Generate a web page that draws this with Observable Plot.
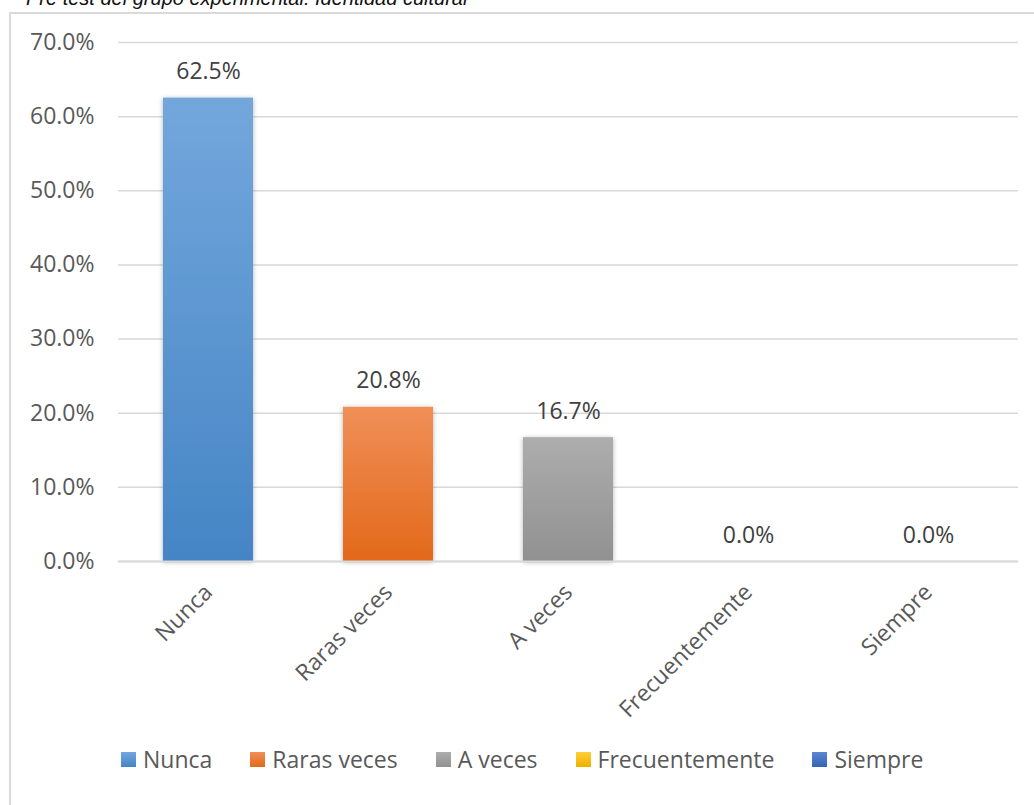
<!DOCTYPE html>
<html>
<head>
<meta charset="utf-8">
<script src="https://cdn.jsdelivr.net/npm/d3@7"></script>
<script src="https://cdn.jsdelivr.net/npm/@observablehq/plot@0.6"></script>
<style>
  html, body { margin: 0; padding: 0; background: #fff; width: 1034px; height: 805px; overflow: hidden; }
  #root { position: relative; width: 1034px; height: 805px; }
  #title { position: absolute; left: 26px; top: -13px; font-family: "Liberation Sans", Arial, sans-serif; font-style: italic; font-size: 20px; color: #111; white-space: nowrap; }
  #frame { position: absolute; left: 9px; top: 12px; width: 1060px; height: 820px; border: 2px solid #DADADA; box-sizing: border-box; pointer-events: none; }
  #chart { position: absolute; left: 0; top: 0; }
  #legend { position: absolute; left: 121px; top: 743px; display: flex; align-items: center; font-family: "Open Sans", sans-serif; font-size: 23px; color: #595959; white-space: nowrap; }
  #legend .item { display: flex; align-items: center; margin-right: 38px; }
  #legend .sw { width: 15px; height: 15px; margin-right: 7px; }
</style>
</head>
<body>
<div id="root">
  <div id="title">Pre test del grupo experimental: Identidad cultural</div>
  <div id="chart"></div>
  <div id="legend"></div>
  <div id="frame"></div>
</div>
<script>
const categories = ["Nunca", "Raras veces", "A veces", "Frecuentemente", "Siempre"];
const values = [0.625, 0.208, 0.167, 0.0, 0.0];
const valueLabels = ["62.5%", "20.8%", "16.7%", "0.0%", "0.0%"];
const yTicks = [0, 0.1, 0.2, 0.3, 0.4, 0.5, 0.6, 0.7];
const gradTop = ["#73A7DC", "#F08F58", "#ADADAD", "#FFCF3A", "#5C86D1"];
const gradBottom = ["#4585C5", "#E2691A", "#919191", "#EDB100", "#3463B8"];

const data = categories.map((c, i) => ({cat: c, value: values[i], label: valueLabels[i], idx: i}));

const svg = Plot.plot({
  width: 1034,
  height: 720,
  marginLeft: 118,
  marginRight: 16,
  marginTop: 42,
  marginBottom: 159,
  style: {background: "transparent", fontFamily: "'Open Sans', sans-serif", overflow: "visible"},
  x: {domain: categories, paddingInner: 0.5, paddingOuter: 0.25, label: null},
  y: {domain: [0, 0.7], label: null},
  marks: [
    Plot.gridY(yTicks, {stroke: "#D9D9D9", strokeOpacity: 1, strokeWidth: 1.5}),
    Plot.barY(data, {x: "cat", y: "value", fill: "#888"}),
    Plot.ruleY([0], {stroke: "#D9D9D9", strokeWidth: 2}),
    Plot.text(data, {x: "cat", y: "value", text: "label", dy: -19, lineAnchor: "bottom", fontSize: 23, fill: "#404040"}),
    Plot.axisY({ticks: yTicks, tickFormat: d => (d * 100).toFixed(1) + "%", tickSize: 0, tickPadding: 24, fontSize: 23, color: "#595959", label: null}),
    Plot.axisX({tickRotate: -45, tickSize: 0, tickPadding: 27, fontSize: 23, color: "#595959", label: null})
  ]
});

// gradients + shadow filter
const ns = "http://www.w3.org/2000/svg";
const defs = document.createElementNS(ns, "defs");
categories.forEach((c, i) => {
  const lg = document.createElementNS(ns, "linearGradient");
  lg.setAttribute("id", "g" + i);
  lg.setAttribute("x1", "0"); lg.setAttribute("y1", "0");
  lg.setAttribute("x2", "0"); lg.setAttribute("y2", "1");
  const s1 = document.createElementNS(ns, "stop");
  s1.setAttribute("offset", "0"); s1.setAttribute("stop-color", gradTop[i]);
  const s2 = document.createElementNS(ns, "stop");
  s2.setAttribute("offset", "1"); s2.setAttribute("stop-color", gradBottom[i]);
  lg.appendChild(s1); lg.appendChild(s2);
  defs.appendChild(lg);
});
const filt = document.createElementNS(ns, "filter");
filt.setAttribute("id", "shadow");
filt.setAttribute("x", "-20%"); filt.setAttribute("y", "-10%");
filt.setAttribute("width", "140%"); filt.setAttribute("height", "120%");
const ds = document.createElementNS(ns, "feDropShadow");
ds.setAttribute("dx", "0"); ds.setAttribute("dy", "1");
ds.setAttribute("stdDeviation", "2.5");
ds.setAttribute("flood-color", "#000");
ds.setAttribute("flood-opacity", "0.3");
filt.appendChild(ds);
defs.appendChild(filt);
svg.insertBefore(defs, svg.firstChild);

const bars = svg.querySelectorAll("g[aria-label='bar'] rect");
bars.forEach((r, k) => {
  const i = data[k] ? data[k].idx : k;
  r.setAttribute("fill", `url(#g${i})`);
  r.setAttribute("filter", "url(#shadow)");
});
const barG = svg.querySelector("g[aria-label='bar']");
if (barG) barG.removeAttribute("fill");

document.getElementById("chart").appendChild(svg);

// legend
const legend = document.getElementById("legend");
categories.forEach((c, i) => {
  const item = document.createElement("div");
  item.className = "item";
  const sw = document.createElement("div");
  sw.className = "sw";
  sw.style.background = `linear-gradient(${gradTop[i]}, ${gradBottom[i]})`;
  const t = document.createElement("span");
  t.textContent = c;
  item.appendChild(sw); item.appendChild(t);
  legend.appendChild(item);
});
</script>
</body>
</html>
